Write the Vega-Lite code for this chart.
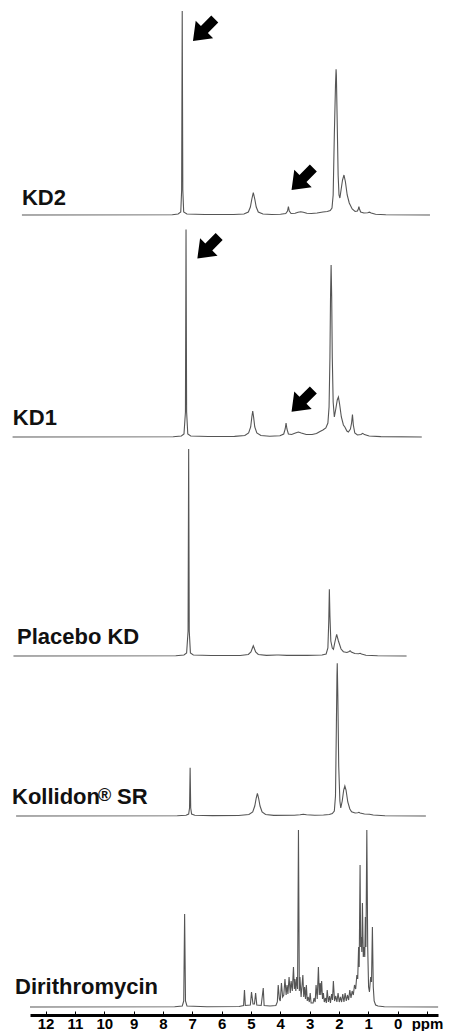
{
  "$schema": "https://vega.github.io/schema/vega-lite/v6.json",
  "padding": 0,
  "spacing": 0,
  "bounds": "flush",
  "config": {"view": {"stroke": null}, "font": "Liberation Sans"},
  "resolve": {"scale": {"x": "independent", "y": "independent"}, "axis": {"x": "independent"}},
  "vconcat": [
    {
      "width": 452, "height": 215,
      "layer": [
        {
          "data": {"values": [
            {"ppm":12.74,"int":0},{"ppm":7.6,"int":0.3},{"ppm":7.40,"int":1},{"ppm":7.31,"int":3},{"ppm":7.28,"int":25},{"ppm":7.26,"int":204},{"ppm":7.24,"int":25},{"ppm":7.21,"int":3},{"ppm":7.10,"int":1},{"ppm":6.5,"int":0.5},{"ppm":5.5,"int":0.5},{"ppm":5.15,"int":1},{"ppm":5.00,"int":3},{"ppm":4.93,"int":8},{"ppm":4.88,"int":16},{"ppm":4.83,"int":22.3},{"ppm":4.78,"int":16},{"ppm":4.73,"int":8},{"ppm":4.66,"int":3},{"ppm":4.5,"int":1},{"ppm":4.2,"int":0.5},{"ppm":3.9,"int":0.8},{"ppm":3.72,"int":1.5},{"ppm":3.66,"int":4},{"ppm":3.63,"int":8.3},{"ppm":3.60,"int":4},{"ppm":3.54,"int":1.5},{"ppm":3.40,"int":1.8},{"ppm":3.30,"int":2.8},{"ppm":3.21,"int":3.3},{"ppm":3.12,"int":2.8},{"ppm":3.00,"int":1.8},{"ppm":2.85,"int":1.5},{"ppm":2.65,"int":2},{"ppm":2.45,"int":3},{"ppm":2.30,"int":3.5},{"ppm":2.20,"int":4.5},{"ppm":2.14,"int":7},{"ppm":2.10,"int":20},{"ppm":2.06,"int":80},{"ppm":2.02,"int":130},{"ppm":2.00,"int":145.7},{"ppm":1.99,"int":140},{"ppm":1.96,"int":90},{"ppm":1.93,"int":40},{"ppm":1.90,"int":20},{"ppm":1.87,"int":17},{"ppm":1.83,"int":25},{"ppm":1.78,"int":35},{"ppm":1.73,"int":40},{"ppm":1.68,"int":33},{"ppm":1.62,"int":20},{"ppm":1.55,"int":12},{"ppm":1.45,"int":6},{"ppm":1.35,"int":3.5},{"ppm":1.27,"int":4},{"ppm":1.24,"int":6},{"ppm":1.22,"int":8.3},{"ppm":1.20,"int":6},{"ppm":1.16,"int":3},{"ppm":1.05,"int":2},{"ppm":0.92,"int":2.2},{"ppm":0.86,"int":2.8},{"ppm":0.80,"int":2},{"ppm":0.65,"int":0.8},{"ppm":0.3,"int":0.3},{"ppm":-1.21,"int":0}
          ]},
          "mark": {"type": "line", "color": "#555", "strokeWidth": 1.1},
          "encoding": {
            "x": {"field": "ppm", "type": "quantitative", "scale": {"domain": [13.49, -1.963], "nice": false, "zero": false}, "axis": null},
            "y": {"field": "int", "type": "quantitative", "scale": {"domain": [0, 215], "nice": false, "zero": false}, "axis": null}
          }
        },
        {
          "data": {"values": [{}]},
          "mark": {"type": "text", "text": "KD2", "align": "left", "baseline": "alphabetic", "fontSize": 22, "fontWeight": "bold", "font": "Liberation Sans", "color": "#111"},
          "encoding": {"x": {"datum": 12.74}, "y": {"datum": 10}}
        },
        {
          "data": {"values": [{"ppm": 6.52, "int": 185}, {"ppm": 3.15, "int": 36}]},
          "mark": {"type": "point", "shape": "M-1,0L0.05,-0.8L0.05,-0.32L1,-0.32L1,0.32L0.05,0.32L0.05,0.8Z", "filled": true, "color": "#000", "opacity": 1, "size": 950, "angle": -45},
          "encoding": {"x": {"field": "ppm", "type": "quantitative"}, "y": {"field": "int", "type": "quantitative"}}
        }
      ]
    },
    {
      "width": 452, "height": 222,
      "layer": [
        {
          "data": {"values": [
            {"ppm":13.19,"int":0},{"ppm":7.7,"int":0.3},{"ppm":7.42,"int":1},{"ppm":7.33,"int":3},{"ppm":7.28,"int":25},{"ppm":7.26,"int":207.4},{"ppm":7.24,"int":25},{"ppm":7.20,"int":3},{"ppm":7.10,"int":1},{"ppm":6.5,"int":0.5},{"ppm":5.6,"int":0.6},{"ppm":5.25,"int":1.5},{"ppm":5.12,"int":4},{"ppm":5.05,"int":10},{"ppm":5.01,"int":20},{"ppm":4.98,"int":26},{"ppm":4.95,"int":20},{"ppm":4.91,"int":10},{"ppm":4.84,"int":4},{"ppm":4.70,"int":1.5},{"ppm":4.4,"int":0.8},{"ppm":4.05,"int":1.2},{"ppm":3.92,"int":3},{"ppm":3.87,"int":8},{"ppm":3.84,"int":14},{"ppm":3.81,"int":8},{"ppm":3.76,"int":3},{"ppm":3.65,"int":2.5},{"ppm":3.52,"int":4},{"ppm":3.42,"int":5},{"ppm":3.32,"int":4},{"ppm":3.15,"int":2.5},{"ppm":2.95,"int":2.5},{"ppm":2.80,"int":3.5},{"ppm":2.68,"int":5.5},{"ppm":2.58,"int":7},{"ppm":2.48,"int":9},{"ppm":2.41,"int":14},{"ppm":2.37,"int":30},{"ppm":2.34,"int":80},{"ppm":2.32,"int":140},{"ppm":2.30,"int":172},{"ppm":2.28,"int":140},{"ppm":2.26,"int":80},{"ppm":2.23,"int":35},{"ppm":2.19,"int":20},{"ppm":2.14,"int":28},{"ppm":2.09,"int":37},{"ppm":2.05,"int":40},{"ppm":2.01,"int":33},{"ppm":1.95,"int":20},{"ppm":1.88,"int":12},{"ppm":1.83,"int":10},{"ppm":1.76,"int":6},{"ppm":1.71,"int":5},{"ppm":1.64,"int":8},{"ppm":1.60,"int":14},{"ppm":1.57,"int":22.4},{"ppm":1.54,"int":12},{"ppm":1.49,"int":4},{"ppm":1.40,"int":2},{"ppm":1.28,"int":2.5},{"ppm":1.22,"int":3.7},{"ppm":1.16,"int":2.4},{"ppm":1.0,"int":1},{"ppm":0.6,"int":0.4},{"ppm":-0.80,"int":0}
          ]},
          "mark": {"type": "line", "color": "#555", "strokeWidth": 1.1},
          "encoding": {
            "x": {"field": "ppm", "type": "quantitative", "scale": {"domain": [13.62, -1.833], "nice": false, "zero": false}, "axis": null},
            "y": {"field": "int", "type": "quantitative", "scale": {"domain": [0, 222], "nice": false, "zero": false}, "axis": null}
          }
        },
        {
          "data": {"values": [{}]},
          "mark": {"type": "text", "text": "KD1", "align": "left", "baseline": "alphabetic", "fontSize": 22, "fontWeight": "bold", "font": "Liberation Sans", "color": "#111"},
          "encoding": {"x": {"datum": 13.18}, "y": {"datum": 12}}
        },
        {
          "data": {"values": [{"ppm": 6.50, "int": 189.5}, {"ppm": 3.28, "int": 36.2}]},
          "mark": {"type": "point", "shape": "M-1,0L0.05,-0.8L0.05,-0.32L1,-0.32L1,0.32L0.05,0.32L0.05,0.8Z", "filled": true, "color": "#000", "opacity": 1, "size": 950, "angle": -45},
          "encoding": {"x": {"field": "ppm", "type": "quantitative"}, "y": {"field": "int", "type": "quantitative"}}
        }
      ]
    },
    {
      "width": 452, "height": 219,
      "layer": [
        {
          "data": {"values": [
            {"ppm":13.25,"int":0},{"ppm":7.7,"int":0.3},{"ppm":7.42,"int":1},{"ppm":7.33,"int":3},{"ppm":7.28,"int":25},{"ppm":7.26,"int":207},{"ppm":7.24,"int":25},{"ppm":7.20,"int":3},{"ppm":7.10,"int":1},{"ppm":6.5,"int":0.5},{"ppm":5.5,"int":0.5},{"ppm":5.22,"int":1.5},{"ppm":5.13,"int":4},{"ppm":5.08,"int":8},{"ppm":5.05,"int":10.3},{"ppm":5.02,"int":8},{"ppm":4.97,"int":4},{"ppm":4.88,"int":1.5},{"ppm":4.6,"int":0.6},{"ppm":4.25,"int":1},{"ppm":4.18,"int":1},{"ppm":3.9,"int":0.6},{"ppm":3.2,"int":0.6},{"ppm":2.7,"int":1},{"ppm":2.56,"int":2},{"ppm":2.50,"int":8},{"ppm":2.47,"int":35},{"ppm":2.45,"int":66.7},{"ppm":2.43,"int":40},{"ppm":2.40,"int":15},{"ppm":2.35,"int":8},{"ppm":2.31,"int":6.7},{"ppm":2.26,"int":14},{"ppm":2.20,"int":21.7},{"ppm":2.14,"int":15},{"ppm":2.05,"int":7},{"ppm":1.97,"int":4.3},{"ppm":1.85,"int":3.5},{"ppm":1.77,"int":4.5},{"ppm":1.74,"int":5.3},{"ppm":1.70,"int":4},{"ppm":1.58,"int":2.5},{"ppm":1.45,"int":2.3},{"ppm":1.40,"int":2.7},{"ppm":1.35,"int":2},{"ppm":1.2,"int":0.8},{"ppm":0.8,"int":0.3},{"ppm":-0.19,"int":0}
          ]},
          "mark": {"type": "line", "color": "#555", "strokeWidth": 1.1},
          "encoding": {
            "x": {"field": "ppm", "type": "quantitative", "scale": {"domain": [13.71, -1.743], "nice": false, "zero": false}, "axis": null},
            "y": {"field": "int", "type": "quantitative", "scale": {"domain": [0, 219], "nice": false, "zero": false}, "axis": null}
          }
        },
        {
          "data": {"values": [{}]},
          "mark": {"type": "text", "text": "Placebo KD", "align": "left", "baseline": "alphabetic", "fontSize": 22, "fontWeight": "bold", "font": "Liberation Sans", "color": "#111"},
          "encoding": {"x": {"datum": 13.13}, "y": {"datum": 12}}
        }
      ]
    },
    {
      "width": 452, "height": 160,
      "layer": [
        {
          "data": {"values": [
            {"ppm":13.21,"int":0},{"ppm":7.7,"int":0.2},{"ppm":7.40,"int":0.8},{"ppm":7.31,"int":2},{"ppm":7.28,"int":8},{"ppm":7.26,"int":48.3},{"ppm":7.24,"int":8},{"ppm":7.21,"int":2},{"ppm":7.10,"int":0.8},{"ppm":6.5,"int":0.4},{"ppm":5.6,"int":0.5},{"ppm":5.25,"int":1.5},{"ppm":5.12,"int":4},{"ppm":5.05,"int":10},{"ppm":5.00,"int":18},{"ppm":4.96,"int":22.7},{"ppm":4.92,"int":18},{"ppm":4.87,"int":10},{"ppm":4.80,"int":4},{"ppm":4.68,"int":1.5},{"ppm":4.4,"int":0.6},{"ppm":3.7,"int":0.8},{"ppm":3.50,"int":1.2},{"ppm":3.39,"int":1.7},{"ppm":3.28,"int":1.2},{"ppm":3.0,"int":0.8},{"ppm":2.7,"int":1},{"ppm":2.50,"int":1.5},{"ppm":2.40,"int":2.5},{"ppm":2.33,"int":5},{"ppm":2.29,"int":20},{"ppm":2.26,"int":90},{"ppm":2.24,"int":140},{"ppm":2.23,"int":152.7},{"ppm":2.21,"int":120},{"ppm":2.18,"int":50},{"ppm":2.14,"int":15},{"ppm":2.11,"int":8},{"ppm":2.06,"int":15},{"ppm":2.01,"int":26},{"ppm":1.97,"int":30},{"ppm":1.93,"int":26},{"ppm":1.87,"int":14},{"ppm":1.80,"int":7},{"ppm":1.74,"int":4.3},{"ppm":1.62,"int":3},{"ppm":1.53,"int":3.3},{"ppm":1.49,"int":3.7},{"ppm":1.45,"int":3},{"ppm":1.30,"int":2},{"ppm":1.13,"int":1.7},{"ppm":1.0,"int":1},{"ppm":0.6,"int":0.3},{"ppm":-0.80,"int":0}
          ]},
          "mark": {"type": "line", "color": "#555", "strokeWidth": 1.1},
          "encoding": {
            "x": {"field": "ppm", "type": "quantitative", "scale": {"domain": [13.76, -1.693], "nice": false, "zero": false}, "axis": null},
            "y": {"field": "int", "type": "quantitative", "scale": {"domain": [0, 160], "nice": false, "zero": false}, "axis": null}
          }
        },
        {
          "data": {"values": [{}]},
          "mark": {"type": "text", "text": "Kollidon", "align": "left", "baseline": "alphabetic", "fontSize": 22, "fontWeight": "bold", "font": "Liberation Sans", "color": "#111"},
          "encoding": {"x": {"datum": 13.35}, "y": {"datum": 12}}
        },
        {
          "data": {"values": [{}]},
          "mark": {"type": "text", "text": "®", "align": "left", "baseline": "alphabetic", "fontSize": 18, "fontWeight": "bold", "font": "Liberation Sans", "color": "#111", "dx": 86, "dy": -3},
          "encoding": {"x": {"datum": 13.35}, "y": {"datum": 12}}
        },
        {
          "data": {"values": [{}]},
          "mark": {"type": "text", "text": "SR", "align": "left", "baseline": "alphabetic", "fontSize": 22, "fontWeight": "bold", "font": "Liberation Sans", "color": "#111", "dx": 105},
          "encoding": {"x": {"datum": 13.35}, "y": {"datum": 12}}
        }
      ]
    },
    {
      "width": 452, "height": 191,
      "layer": [
        {
          "data": {"values": [
            {"ppm":12.53,"int":0},{"ppm":7.6,"int":0.3},{"ppm":7.34,"int":1},{"ppm":7.29,"int":6},{"ppm":7.26,"int":93},{"ppm":7.23,"int":6},{"ppm":7.18,"int":1},{"ppm":6.5,"int":0.3},{"ppm":5.4,"int":0.5},{"ppm":5.25,"int":1.5},{"ppm":5.22,"int":17},{"ppm":5.19,"int":1.5},{"ppm":5.02,"int":2},{"ppm":4.98,"int":15},{"ppm":4.93,"int":3},{"ppm":4.88,"int":3},{"ppm":4.84,"int":14},{"ppm":4.80,"int":2},{"ppm":4.65,"int":1.5},{"ppm":4.58,"int":19},{"ppm":4.55,"int":1.5},{"ppm":4.35,"int":1},{"ppm":4.15,"int":1.5},{"ppm":4.10,"int":5},{"ppm":4.07,"int":22},{"ppm":4.03,"int":8},{"ppm":4.00,"int":6},{"ppm":3.96,"int":24},{"ppm":3.92,"int":10},{"ppm":3.88,"int":12},{"ppm":3.84,"int":28},{"ppm":3.80,"int":12},{"ppm":3.77,"int":22},{"ppm":3.74,"int":13},{"ppm":3.70,"int":30},{"ppm":3.66,"int":14},{"ppm":3.63,"int":26},{"ppm":3.59,"int":16},{"ppm":3.55,"int":40},{"ppm":3.52,"int":18},{"ppm":3.50,"int":28},{"ppm":3.47,"int":16},{"ppm":3.44,"int":30},{"ppm":3.41,"int":18},{"ppm":3.38,"int":177},{"ppm":3.35,"int":16},{"ppm":3.33,"int":30},{"ppm":3.29,"int":10},{"ppm":3.23,"int":32},{"ppm":3.20,"int":10},{"ppm":3.17,"int":20},{"ppm":3.14,"int":8},{"ppm":3.11,"int":22},{"ppm":3.08,"int":6},{"ppm":3.05,"int":10},{"ppm":3.01,"int":5},{"ppm":2.98,"int":14},{"ppm":2.95,"int":4},{"ppm":2.88,"int":4},{"ppm":2.85,"int":9},{"ppm":2.81,"int":5},{"ppm":2.78,"int":22},{"ppm":2.74,"int":8},{"ppm":2.70,"int":40},{"ppm":2.67,"int":12},{"ppm":2.64,"int":24},{"ppm":2.62,"int":12},{"ppm":2.59,"int":26},{"ppm":2.56,"int":8},{"ppm":2.53,"int":14},{"ppm":2.50,"int":5},{"ppm":2.46,"int":9},{"ppm":2.43,"int":4},{"ppm":2.40,"int":17},{"ppm":2.36,"int":5},{"ppm":2.32,"int":11},{"ppm":2.29,"int":4},{"ppm":2.25,"int":13},{"ppm":2.22,"int":7},{"ppm":2.19,"int":26},{"ppm":2.15,"int":6},{"ppm":2.11,"int":11},{"ppm":2.07,"int":5},{"ppm":2.03,"int":14},{"ppm":1.99,"int":5},{"ppm":1.95,"int":10},{"ppm":1.91,"int":5},{"ppm":1.87,"int":13},{"ppm":1.83,"int":5},{"ppm":1.79,"int":14},{"ppm":1.75,"int":6},{"ppm":1.71,"int":12},{"ppm":1.67,"int":7},{"ppm":1.63,"int":17},{"ppm":1.59,"int":9},{"ppm":1.55,"int":16},{"ppm":1.51,"int":12},{"ppm":1.47,"int":22},{"ppm":1.43,"int":18},{"ppm":1.39,"int":32},{"ppm":1.36,"int":28},{"ppm":1.33,"int":60},{"ppm":1.31,"int":40},{"ppm":1.28,"int":142},{"ppm":1.26,"int":60},{"ppm":1.24,"int":70},{"ppm":1.22,"int":55},{"ppm":1.20,"int":104},{"ppm":1.17,"int":50},{"ppm":1.14,"int":60},{"ppm":1.12,"int":50},{"ppm":1.10,"int":90},{"ppm":1.08,"int":60},{"ppm":1.05,"int":177},{"ppm":1.02,"int":60},{"ppm":0.99,"int":20},{"ppm":0.96,"int":15},{"ppm":0.92,"int":30},{"ppm":0.89,"int":25},{"ppm":0.86,"int":80},{"ppm":0.83,"int":20},{"ppm":0.80,"int":6},{"ppm":0.75,"int":2},{"ppm":0.67,"int":1},{"ppm":0.45,"int":0.3},{"ppm":-1.38,"int":0}
          ]},
          "mark": {"type": "line", "color": "#555", "strokeWidth": 1.1},
          "encoding": {
            "x": {"field": "ppm", "type": "quantitative",
              "scale": {"domain": [12.53, -1.376], "range": [30, 438], "nice": false, "zero": false},
              "axis": {
                "values": [12, 11, 10, 9, 8, 7, 6, 5, 4, 3, 2, 1, 0, -1],
                "tickCount": 14,
                "labelExpr": "datum.value == -1 ? '\u00a0\u00a0\u00a0ppm' : datum.label",
                "title": null, "grid": false,
                "domain": true, "domainColor": "#000", "domainWidth": 3,
                "ticks": true, "tickColor": "#000", "tickSize": -4, "tickWidth": 1,
                "offset": 8,
                "labelOverlap": false, "labelFlush": false, "labelBound": false,
                "labelFont": "Liberation Sans", "labelFontSize": 15, "labelFontWeight": "bold", "labelColor": "#000",
                "labelBaseline": "alphabetic",
                "labelPadding": 17
              }
            },
            "y": {"field": "int", "type": "quantitative", "scale": {"domain": [0, 191], "nice": false, "zero": false}, "axis": null}
          }
        },
        {
          "data": {"values": [{}]},
          "mark": {"type": "text", "text": "Dirithromycin", "align": "left", "baseline": "alphabetic", "fontSize": 22, "fontWeight": "bold", "font": "Liberation Sans", "color": "#111"},
          "encoding": {"x": {"datum": 13.04}, "y": {"datum": 13}}
        }
      ]
    }
  ]
}
